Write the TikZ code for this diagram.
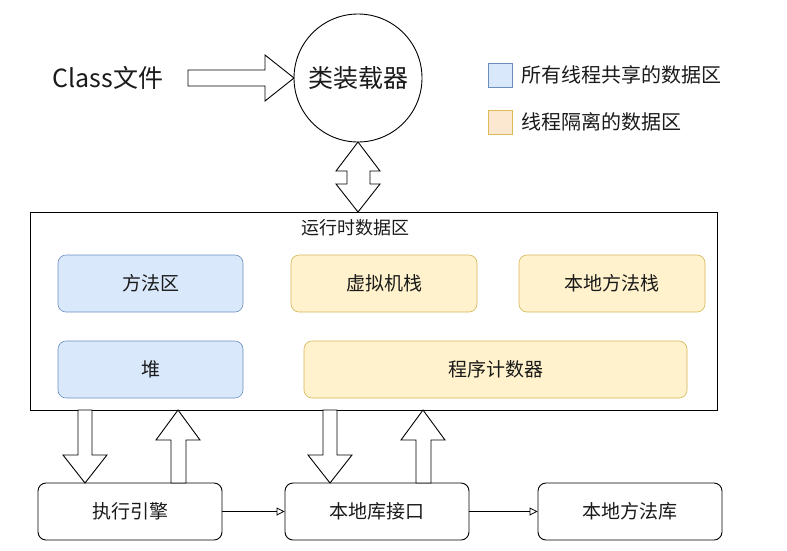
\documentclass[tikz,border=0pt]{standalone}
\usepackage{fontspec}
\setmainfont{Noto Sans CJK SC}
\usetikzlibrary{arrows.meta}
\definecolor{bluefill}{HTML}{DAE8FC}
\definecolor{blueline}{HTML}{6C8EBF}
\definecolor{yelfill}{HTML}{FFF2CC}
\definecolor{yelline}{HTML}{D6B656}
\definecolor{orfill}{HTML}{FCE8D0}
\definecolor{orline}{HTML}{DDBB55}
\definecolor{txt}{HTML}{1A1A1A}
\tikzset{
  shared/.style={draw=blueline, fill=bluefill, rounded corners=8pt, line width=0.6pt, text=txt, font=\fontsize{19}{19}\selectfont},
  isol/.style={draw=yelline, fill=yelfill, rounded corners=8pt, line width=0.6pt, text=txt, font=\fontsize{19}{19}\selectfont},
  plain/.style={draw=black, fill=white, rounded corners=8pt, line width=0.9pt, text=txt, font=\fontsize{19}{19}\selectfont},
  hollow/.style={draw=black, fill=white, line width=0.9pt, line join=miter},
  thin/.style={draw=black, line width=0.8pt, -{Triangle[open, length=8pt, width=8pt]}}
}
\begin{document}
\begin{tikzpicture}[x=1pt,y=-1pt]
\useasboundingbox (0,0) rectangle (787,550);
% top
\node[text=txt, font=\fontsize{25}{25}\selectfont] (cls) at (108,78) {Class文件};
\node[draw=black, line width=0.9pt, circle, minimum size=128pt, inner sep=0pt, text=txt, font=\fontsize{25}{25}\selectfont] (loader) at (358,78) {类装载器};
% hollow arrow class -> loader
\draw[hollow] (188,70) -- (265,70) -- (265,55) -- (294,78) -- (265,101) -- (265,86) -- (188,86) -- cycle;
% legend
\node[draw=blueline, fill=bluefill, line width=0.6pt, minimum size=24pt, inner sep=0pt] (lg1) at (500,75) {};
\node[anchor=west, text=txt, font=\fontsize{20}{20}\selectfont] (lt1) at (518,75) {所有线程共享的数据区};
\node[draw=orline, fill=orfill, line width=0.6pt, minimum size=24pt, inner sep=0pt] (lg2) at (500,122) {};
\node[anchor=west, text=txt, font=\fontsize{20}{20}\selectfont] (lt2) at (518,122) {线程隔离的数据区};
% runtime area
\node[draw=black, line width=0.9pt, minimum width=687pt, minimum height=198pt, inner sep=0pt] (rt) at (373.5,311) {};
\node[text=txt, font=\fontsize{18}{18}\selectfont] (rtt) at (355,228) {运行时数据区};
% double hollow arrow loader <-> runtime
\draw[hollow] (358,142) -- (380,171) -- (370,171) -- (370,184) -- (380,184) -- (358,212) -- (336,184) -- (347,184) -- (347,171) -- (336,171) -- cycle;
% inner boxes
\node[shared, minimum width=185pt, minimum height=57pt] (ma) at (150.5,283.5) {方法区};
\node[isol, minimum width=186pt, minimum height=57pt] (vms) at (384,283.5) {虚拟机栈};
\node[isol, minimum width=186pt, minimum height=57pt] (nms) at (612,283.5) {本地方法栈};
\node[shared, minimum width=185pt, minimum height=57pt] (heap) at (150.5,369.5) {堆};
\node[isol, minimum width=383pt, minimum height=57pt] (pc) at (495.5,369.5) {程序计数器};
% bottom boxes
\node[plain, minimum width=184pt, minimum height=57pt] (ee) at (130,511.5) {执行引擎};
\node[plain, minimum width=184pt, minimum height=57pt] (nli) at (377,511.5) {本地库接口};
\node[plain, minimum width=184pt, minimum height=57pt] (nml) at (630,511.5) {本地方法库};
% thin arrows
\draw[thin] (ee.east) -- (nli.west);
\draw[thin] (nli.east) -- (nml.west);
% down / up hollow arrows
\draw[hollow] (78,410) -- (92,410) -- (92,455) -- (107,455) -- (85,483) -- (63,455) -- (78,455) -- cycle;
\draw[hollow] (178,410) -- (200,440) -- (186,440) -- (186,483) -- (171,483) -- (171,440) -- (156,440) -- cycle;
\draw[hollow] (323,410) -- (337,410) -- (337,455) -- (352,455) -- (330,483) -- (308,455) -- (323,455) -- cycle;
\draw[hollow] (423,410) -- (445,440) -- (431,440) -- (431,483) -- (416,483) -- (416,440) -- (401,440) -- cycle;
\end{tikzpicture}
\end{document}
